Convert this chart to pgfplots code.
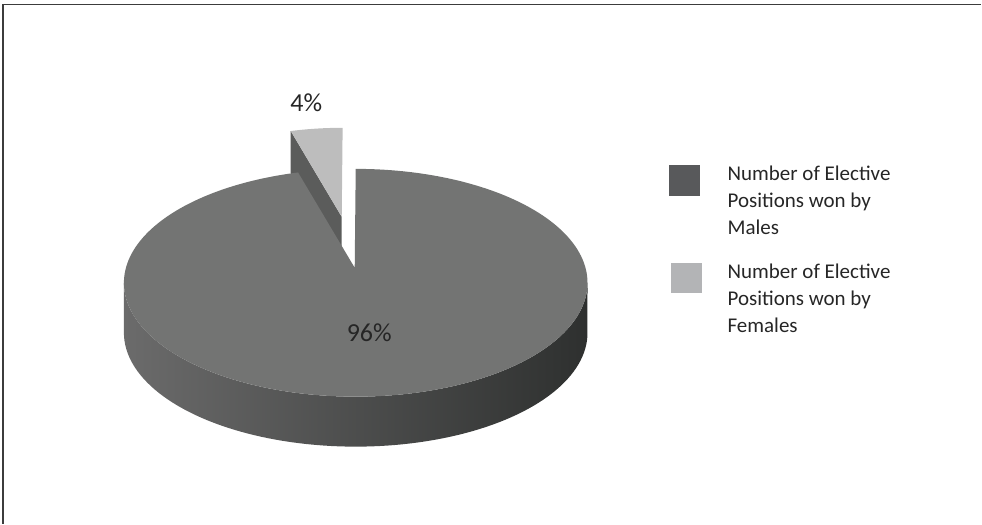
\documentclass[border=0pt]{standalone}
\usepackage{pgfplots}
\pgfplotsset{compat=1.18}
\usepackage{pgfplotstable}
\usepackage{fontspec}
\setmainfont{Carlito}
\definecolor{topgray}{HTML}{737473}
\definecolor{sideL}{HTML}{6B6B6B}
\definecolor{sideM}{HTML}{4A4B4A}
\definecolor{sideR}{HTML}{2E302F}
\definecolor{slicetop}{HTML}{BDBDBD}
\definecolor{sliceside}{HTML}{5B5C5B}
\definecolor{legM}{HTML}{58595B}
\definecolor{legF}{HTML}{B3B4B6}
\definecolor{txt}{HTML}{262626}
\definecolor{frame}{HTML}{3C3C3C}

\pgfplotstableread{
label value
Males 96
Females 4
}\piedata

\begin{document}
\begin{tikzpicture}
\pgfplotstablegetelem{0}{value}\of\piedata \edef\valM{\pgfplotsretval}%
\pgfplotstablegetelem{1}{value}\of\piedata \edef\valF{\pgfplotsretval}%
\pgfmathsetmacro\angF{360*\valF/(\valM+\valF)}%
\pgfmathsetmacro\tEnd{90+\angF}%
\pgfmathsetmacro\tStart{\tEnd-360}%
\pgfmathsetmacro\sx{342+0.9*(1+232*cos(\tEnd))}%
\pgfmathsetmacro\sy{217+0.9*(15-114*sin(\tEnd))}%
\pgfmathsetmacro\syb{\sy+42}%
\begin{axis}[
  width=982pt, height=524pt, scale only axis,
  xmin=0, xmax=982, ymin=0, ymax=524, y dir=reverse,
  hide axis, clip=false,
]
% bounding box
\addplot[draw=none] coordinates {(0,0) (982,524)};
% frame
\addplot[frame, line width=1.6pt] coordinates {(3,524) (3,4.5) (982,4.5)};
% main pie side
\addplot[draw=none, left color=sideL, middle color=sideM, right color=sideR,
  domain=180:540, samples=181, variable=\t]
  ({356+232*cos(\t)}, {\t<360.5 ? 283-114*sin(\t) : 333+114*sin(\t)}) -- cycle;
% exploded slice radial face
\addplot[fill=sliceside, draw=none] coordinates {(\sx,\sy) (342,217) (342,259) (\sx,\syb)} -- cycle;
% exploded slice top
\addplot[fill=slicetop, draw=none, domain=90:\tEnd, samples=30, variable=\t]
  ({342+0.9*(1+232*cos(\t))}, {217+0.9*(15-114*sin(\t))}) -- (axis cs:342,217) -- cycle;
% main pie top
\addplot[fill=topgray, draw=none, domain=\tStart:90, samples=200, variable=\t]
  ({356+232*cos(\t)}, {283-114*sin(\t)}) -- (axis cs:355,268) -- cycle;
% labels
\node[anchor=base, text=txt, font=\fontsize{26}{30}\selectfont] at (axis cs:369.5,341.5) {96\%};
\node[anchor=base, text=txt, font=\fontsize{26}{30}\selectfont] at (axis cs:306.5,111.5) {4\%};
% legend
\fill[legM] (axis cs:670,165) rectangle (axis cs:701,196);
\fill[legF] (axis cs:672,263) rectangle (axis cs:703,293);
\begin{scope}[every node/.style={anchor=base west, text=txt, font=\fontsize{21}{27}\selectfont, inner sep=0pt}]
\node at (axis cs:728,180.5) {Number of Elective};
\node at (axis cs:728,207.5) {Positions won by};
\node at (axis cs:728,234.5) {Males};
\node at (axis cs:728,278.5) {Number of Elective};
\node at (axis cs:728,305.5) {Positions won by};
\node at (axis cs:728,332.5) {Females};
\end{scope}
\end{axis}
\end{tikzpicture}
\end{document}
